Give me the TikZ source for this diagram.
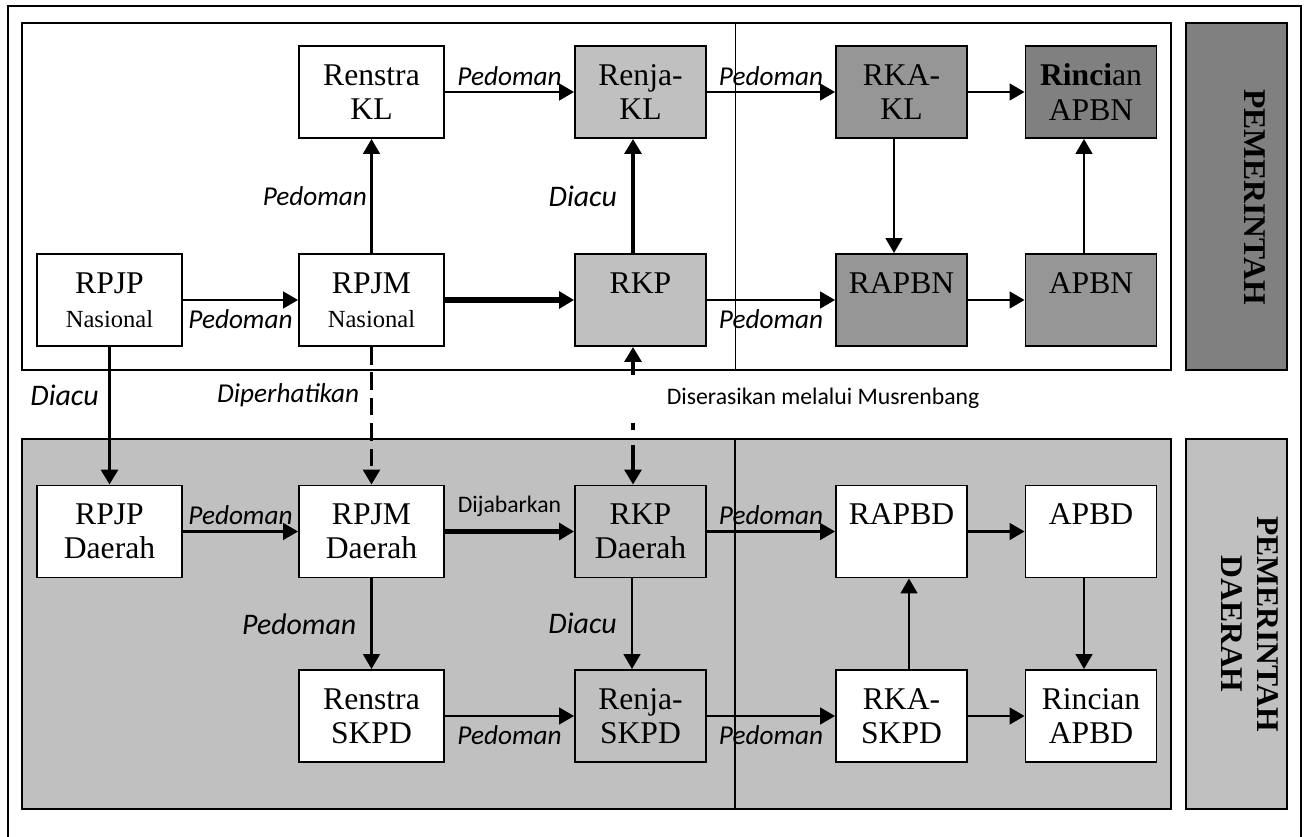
\documentclass[tikz,border=0pt]{standalone}
\usepackage{fontspec}
\setmainfont{Liberation Serif}
\newfontfamily\lblfont{Carlito}
\usetikzlibrary{arrows.meta}
\definecolor{abumuda}{HTML}{C0C0C0}
\definecolor{abusedang}{HTML}{969696}
\definecolor{abutua}{HTML}{808080}
\newcommand{\kecil}[1]{{\fontsize{14}{19.3}\selectfont #1}}
\tikzset{
    kotak/.style = {rectangle, draw=black, line width=1.1pt, inner sep=1pt, align=center, minimum height=1.84cm, fill=white, font=\fontsize{18}{19.5}\selectfont},
    kotakl/.style = {kotak, minimum width=2.9cm},
    kotaks/.style = {kotak, minimum width=2.62cm},
    judul/.style = {rotate=-90, align=center, font=\bfseries\fontsize{18}{20.4}\selectfont},
    lbl/.style = {font=\lblfont\itshape\fontsize{15.5}{18}\selectfont, inner sep=2pt},
    lblb/.style = {font=\lblfont\itshape\fontsize{17}{20}\selectfont, inner sep=2pt},
    lblr/.style = {font=\lblfont\fontsize{13.5}{16}\selectfont, inner sep=2pt},
    edgen/.style = {-{Triangle[length=8.5pt,width=9.5pt]}, line width=1.3pt},
    edgeb/.style = {edgen, line width=2.2pt},
    edgex/.style = {edgen, line width=3.2pt},
    edged/.style = {edgen, line width=2pt, dash pattern=on 10pt off 4.5pt}, % diperhatikan
    edgeds/.style = {{Triangle[length=8.5pt,width=9.5pt]}-{Triangle[length=8.5pt,width=9.5pt]}, line width=2.2pt, dash pattern=on 7.9pt off 27.2pt on 4pt off 8.5pt on 20pt} % musrenbang
}
\begin{document}
\begin{tikzpicture}[x=0.02cm, y=-0.02cm]
  \clip (0,0) rectangle (1304,837);
  % bingkai
  \draw[line width=1.1pt] (8,6) rectangle (1301,860);
  % pemerintah pusat
  \draw[line width=0.9pt, fill=white] (22,23) rectangle (1171,370);
  \draw[line width=0.5pt] (735,23) -- (735,370);
  \draw[line width=1.1pt, fill=abutua] (1186,23) rectangle (1287,370);
  \node[judul] (pusat) at (1255,197) {PEMERINTAH};
  % pemerintah daerah
  \draw[line width=0.9pt, fill=abumuda] (22,439) rectangle (1171,809);
  \draw[line width=1.1pt] (735,439) -- (735,809);
  \draw[line width=1.4pt, fill=abumuda] (1186,439) rectangle (1287,809);
  \node[judul] (daerah) at (1250,624) {PEMERINTAH\\DAERAH};

  \node[kotakl] (renstrakl) at (371.5,92) {Renstra\\KL};
  \node[kotaks, fill=abumuda] (renjakl) at (640.5,92) {Renja-\\KL};
  \node[kotaks, fill=abusedang] (rkakl) at (901.5,92) {RKA-\\KL};
  \node[kotaks, fill=abutua] (rincianapbn) at (1091,92) {\textbf{Rinci}an\\APBN};

  \node[kotakl] (rpjpnas) at (109.5,300) {RPJP\\\kecil{Nasional}};
  \node[kotakl] (rpjmnas) at (371.5,300) {RPJM\\\kecil{Nasional}};
  \node[kotaks, fill=abumuda] (rkp) at (640.5,300) {RKP\\\phantom{A}};
  \node[kotaks, fill=abusedang] (rapbn) at (901.5,300) {RAPBN\\\phantom{A}};
  \node[kotaks, fill=abusedang] (apbn) at (1091,300) {APBN\\\phantom{A}};

  \node[kotakl] (rpjpd) at (109.5,531.5) {RPJP\\Daerah};
  \node[kotakl] (rpjmd) at (371.5,531.5) {RPJM\\Daerah};
  \node[kotaks, fill=abumuda] (rkpd) at (640.5,531.5) {RKP\\Daerah};
  \node[kotaks] (rapbd) at (901.5,531.5) {RAPBD\\\phantom{A}};
  \node[kotaks] (apbd) at (1091,531.5) {APBD\\\phantom{A}};

  \node[kotakl] (renstraskpd) at (371.5,716) {Renstra\\SKPD};
  \node[kotaks, fill=abumuda] (renjaskpd) at (640.5,716) {Renja-\\SKPD};
  \node[kotaks] (rkaskpd) at (901.5,716) {RKA-\\SKPD};
  \node[kotaks] (rincianapbd) at (1091,716) {Rincian\\APBD};

  % pusat
  \draw[edgen] (renstrakl) -- node[lbl, above=1pt] {Pedoman} (renjakl);
  \draw[edgen] (rpjmnas) -- node[lbl, left] {Pedoman} (renstrakl);
  \draw[edgen] (rpjpnas) -- node[lbl, below=3pt] {Pedoman} (rpjmnas);
  \draw[edgex] (rpjmnas) -- (rkp);
  \draw[edgeb] ([xshift=-0.15cm]rkp.north) -- node[lblb, left=6pt] {Diacu} ([xshift=-0.15cm]renjakl.south);
  \draw[edgen] (renjakl) -- node[lbl, above=1pt] {Pedoman} (rkakl);
  \draw[edgen] (rkakl) -- (rincianapbn);
  \draw[edgen] ([xshift=-0.15cm]rkakl.south) -- ([xshift=-0.15cm]rapbn.north);
  \draw[edgen] (rkp) -- node[lbl, below=3pt] {Pedoman} (rapbn);
  \draw[edgen] (rapbn) -- (apbn);
  \draw[edgen] ([xshift=-0.14cm]apbn.north) -- ([xshift=-0.14cm]rincianapbn.south);

  % antar panel
  \draw[edgeb] (rpjpnas) -- node[lblb, left=3pt, pos=0.35] {Diacu} (rpjpd);
  \draw[edged] (rpjmnas) -- node[lbl, left=4pt, pos=0.35] {Diperhatikan} (rpjmd);
  \draw[edgeds] ([xshift=-0.15cm]rkp.south) -- ([xshift=-0.15cm]rkpd.north);
  \node[lblr, anchor=west] (musren) at (663,398) {Diserasikan melalui Musrenbang};

  % daerah
  \draw[edgen] (rpjpd) -- node[lbl, above=1pt] {Pedoman} (rpjmd);
  \draw[edgex] (rpjmd) -- node[lblr, above=5pt] {Dijabarkan} (rkpd);
  \draw[edgen] (rkpd) -- node[lbl, above=1pt] {Pedoman} (rapbd);
  \draw[edgen] (rapbd) -- (apbd);
  \draw[edgen] ([xshift=-0.14cm]apbd.south) -- ([xshift=-0.14cm]rincianapbd.north);
  \draw[edgen] (rpjmd) -- node[lblb, left=6pt] {Pedoman} (renstraskpd);
  \draw[edgen] ([xshift=-0.17cm]rkpd.south) -- node[lblb, left=6pt] {Diacu} ([xshift=-0.17cm]renjaskpd.north);
  \draw[edgen] (renstraskpd) -- node[lbl, below=3pt] {Pedoman} (renjaskpd);
  \draw[edgen] (renjaskpd) -- node[lbl, below=3pt] {Pedoman} (rkaskpd);
  \draw[edgen] ([xshift=0.15cm]rkaskpd.north) -- ([xshift=0.15cm]rapbd.south);
  \draw[edgen] (rkaskpd) -- (rincianapbd);
\end{tikzpicture}
\end{document}
